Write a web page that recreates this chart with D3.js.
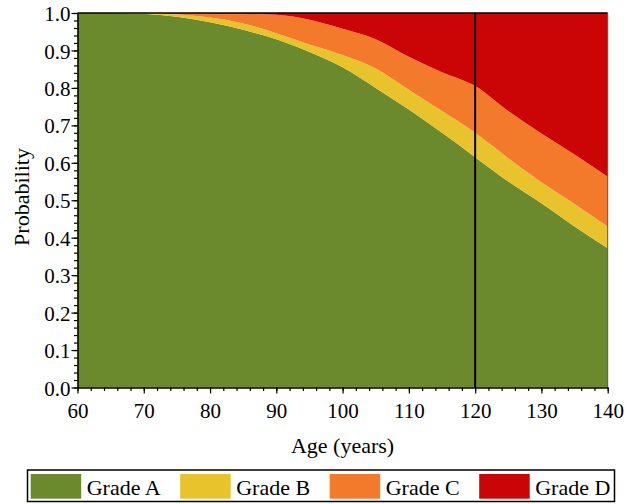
<!DOCTYPE html>
<html>
<head>
<meta charset="utf-8">
<script src="https://cdn.jsdelivr.net/npm/d3@7"></script>
<style>
  body { margin: 0; background: #fff; }
  svg { display: block; font-family: "Liberation Serif", "Times New Roman", serif; }
</style>
</head>
<body>
<div id="chart"></div>
<script>
const ages   = [60, 65, 70, 75, 80, 85, 90, 95, 100, 105, 110, 115, 120, 125, 130, 135, 140];
const gradeA = [1.000, 1.000, 0.998, 0.990, 0.975, 0.955, 0.930, 0.896, 0.855, 0.800, 0.742, 0.680, 0.615, 0.550, 0.492, 0.430, 0.372];
const gradeB = [0.000, 0.000, 0.002, 0.006, 0.013, 0.017, 0.016, 0.020, 0.033, 0.052, 0.053, 0.058, 0.065, 0.062, 0.056, 0.060, 0.058];
const gradeC = [0.000, 0.000, 0.000, 0.004, 0.011, 0.026, 0.049, 0.066, 0.070, 0.078, 0.088, 0.104, 0.125, 0.126, 0.130, 0.132, 0.133];
const gradeD = [0.000, 0.000, 0.000, 0.000, 0.001, 0.002, 0.005, 0.018, 0.042, 0.070, 0.117, 0.158, 0.195, 0.262, 0.322, 0.378, 0.437];
const grades = ["Grade A", "Grade B", "Grade C", "Grade D"];
const colors = ["#6b8a2d", "#e9c32b", "#f47a2b", "#cb0505"];
const xTicks = [60, 70, 80, 90, 100, 110, 120, 130, 140];
const yTicks = [0, 0.1, 0.2, 0.3, 0.4, 0.5, 0.6, 0.7, 0.8, 0.9, 1.0];
const cutoffAge = 120;

const width = 641, height = 504;
const plotLeft = 77.5, plotRight = 607.7, plotTop = 13, plotBottom = 387.5;

const svg = d3.select("#chart").append("svg")
  .attr("width", width).attr("height", height);

const x = d3.scaleLinear().domain([60, 140]).range([plotLeft, plotRight]);
const y = d3.scaleLinear().domain([0, 1]).range([plotBottom, plotTop]);

const rows = ages.map((a, i) => ({
  age: a,
  "Grade A": gradeA[i], "Grade B": gradeB[i], "Grade C": gradeC[i], "Grade D": gradeD[i]
}));
const series = d3.stack().keys(grades)(rows);

const area = d3.area()
  .curve(d3.curveMonotoneX)
  .x(d => x(d.data.age))
  .y0(d => y(d[0]))
  .y1(d => y(Math.min(1, d[1])));

svg.append("g")
  .selectAll("path")
  .data(series)
  .join("path")
  .attr("fill", (d, i) => colors[i])
  .attr("d", area);

// frame top/right
svg.append("line").attr("x1", plotLeft).attr("x2", plotRight).attr("y1", plotTop).attr("y2", plotTop)
  .attr("stroke", "#000").attr("stroke-width", 1.5);
svg.append("line").attr("x1", plotRight).attr("x2", plotRight).attr("y1", plotTop).attr("y2", plotBottom)
  .attr("stroke", "#555").attr("stroke-width", 1);

// cutoff line
svg.append("line")
  .attr("x1", x(cutoffAge)).attr("x2", x(cutoffAge))
  .attr("y1", plotTop).attr("y2", plotBottom)
  .attr("stroke", "#000").attr("stroke-width", 2);

// minor ticks
svg.append("g")
  .attr("transform", `translate(0,${plotBottom})`)
  .call(d3.axisBottom(x).ticks(40).tickSize(3.5).tickFormat(""))
  .call(g => g.select(".domain").remove());
svg.append("g")
  .attr("transform", `translate(${plotLeft},0)`)
  .call(d3.axisLeft(y).ticks(50).tickSize(3.5).tickFormat(""))
  .call(g => g.select(".domain").remove());

const xAxis = svg.append("g")
  .attr("transform", `translate(0,${plotBottom})`)
  .call(d3.axisBottom(x).tickValues(xTicks).tickSize(6).tickPadding(10).tickSizeOuter(0));
const yAxis = svg.append("g")
  .attr("transform", `translate(${plotLeft},0)`)
  .call(d3.axisLeft(y).tickValues(yTicks).tickFormat(d3.format(".1f")).tickSize(6).tickPadding(1).tickSizeOuter(0));

svg.selectAll(".tick line").attr("stroke", "#000").attr("stroke-width", 1.2);
[xAxis, yAxis].forEach(g => {
  g.select(".domain").attr("stroke", "#000").attr("stroke-width", 1.5);
  g.selectAll("text").attr("font-size", 21).attr("font-family", "Liberation Serif").attr("fill", "#000");
});
yAxis.selectAll("text").attr("dy", "0.36em");

svg.append("text")
  .attr("x", (plotLeft + plotRight) / 2).attr("y", 453)
  .attr("text-anchor", "middle").attr("font-size", 22)
  .text("Age (years)");

svg.append("text")
  .attr("transform", `translate(29,197) rotate(-90)`)
  .attr("text-anchor", "middle").attr("font-size", 22)
  .text("Probability");

// legend
const legend = svg.append("g");
legend.append("rect")
  .attr("x", 27.5).attr("y", 470).attr("width", 587).attr("height", 31.5)
  .attr("fill", "#fff").attr("stroke", "#000").attr("stroke-width", 1.5);
const item = legend.selectAll("g.item")
  .data(grades)
  .join("g")
  .attr("class", "item")
  .attr("transform", (d, i) => `translate(${30.7 + i * 149.5},474)`);
item.append("rect")
  .attr("width", 50.5).attr("height", 24.7)
  .attr("fill", (d, i) => colors[i]);
item.append("text")
  .attr("x", 56).attr("y", 20.5)
  .attr("font-size", 22)
  .text(d => d);
</script>
</body>
</html>
